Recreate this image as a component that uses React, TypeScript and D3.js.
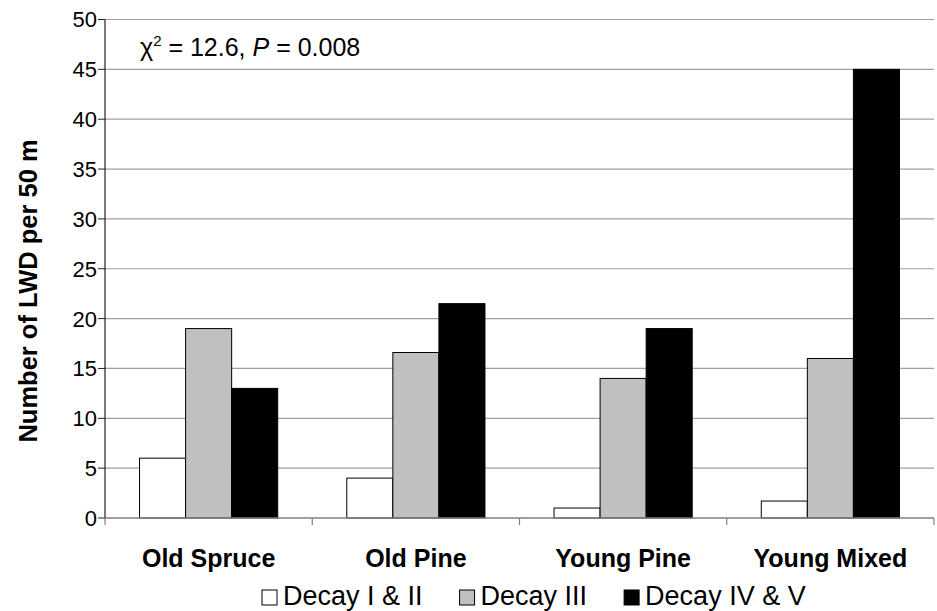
import React, { useEffect, useRef } from "react";
import * as d3 from "d3";

const categories = ["Old Spruce", "Old Pine", "Young Pine", "Young Mixed"];
const seriesNames = ["Decay I & II", "Decay III", "Decay IV & V"];
const decayI_II = [6, 4, 1, 1.7];
const decayIII = [19, 16.6, 14, 16];
const decayIV_V = [13, 21.5, 19, 45];
const seriesColors = ["#ffffff", "#c0c0c0", "#000000"];
const yTicks = [0, 5, 10, 15, 20, 25, 30, 35, 40, 45, 50];

export default function App() {
  const ref = useRef<SVGSVGElement | null>(null);

  useEffect(() => {
    const svg = d3.select(ref.current);
    svg.selectAll("*").remove();
    const font = "'Liberation Sans', Arial, sans-serif";
    const left = 105, right = 934, top = 19.5, bottom = 518;

    const y = d3.scaleLinear().domain([0, 50]).range([bottom, top]);
    const x0 = d3.scaleBand<string>().domain(categories).range([left, right]).paddingInner(0).paddingOuter(0);
    const x1 = d3.scaleBand<string>().domain(seriesNames).range([0, x0.bandwidth()]).paddingInner(0).paddingOuter(0.75);
    const series = [decayI_II, decayIII, decayIV_V];

    // gridlines
    svg.append("g").selectAll("line").data(yTicks.filter((t) => t > 0)).join("line")
      .attr("x1", left).attr("x2", right)
      .attr("y1", (d) => y(d)).attr("y2", (d) => y(d))
      .attr("stroke", "#a0a0a0").attr("stroke-width", 1.2);

    // bars
    const g = svg.append("g");
    categories.forEach((c, ci) => {
      seriesNames.forEach((s, si) => {
        const v = series[si][ci];
        g.append("rect")
          .attr("x", (x0(c) as number) + (x1(s) as number))
          .attr("y", y(v))
          .attr("width", x1.bandwidth())
          .attr("height", y(0) - y(v))
          .attr("fill", seriesColors[si])
          .attr("stroke", "#000").attr("stroke-width", 1);
      });
    });

    // y axis
    svg.append("line").attr("x1", left).attr("x2", left).attr("y1", top).attr("y2", bottom)
      .attr("stroke", "#222").attr("stroke-width", 1.2);
    svg.append("g").selectAll("line").data(yTicks).join("line")
      .attr("x1", left - 7).attr("x2", left)
      .attr("y1", (d) => y(d)).attr("y2", (d) => y(d))
      .attr("stroke", "#222").attr("stroke-width", 1);
    svg.append("g").selectAll("text").data(yTicks).join("text")
      .attr("x", left - 8).attr("y", (d) => y(d)).attr("dy", "0.36em")
      .attr("text-anchor", "end").attr("font-family", font).attr("font-size", 22)
      .attr("fill", "#000").text((d) => String(d));

    // x axis
    svg.append("line").attr("x1", left).attr("x2", right).attr("y1", bottom).attr("y2", bottom)
      .attr("stroke", "#808080").attr("stroke-width", 1.5);
    const bounds = categories.map((c) => x0(c) as number).concat([right]);
    svg.append("g").selectAll("line").data(bounds).join("line")
      .attr("x1", (d) => d).attr("x2", (d) => d)
      .attr("y1", bottom).attr("y2", bottom + 7)
      .attr("stroke", "#808080").attr("stroke-width", 1.2);
    svg.append("g").selectAll("text").data(categories).join("text")
      .attr("x", (d) => (x0(d) as number) + x0.bandwidth() / 2).attr("y", 567)
      .attr("text-anchor", "middle").attr("font-family", font).attr("font-weight", "bold")
      .attr("font-size", 25).attr("fill", "#000").text((d) => d);

    // y title
    svg.append("text")
      .attr("transform", "translate(37,291) rotate(-90)")
      .attr("text-anchor", "middle").attr("font-family", font).attr("font-weight", "bold")
      .attr("font-size", 25.5).attr("fill", "#000").text("Number of LWD per 50 m");

    // annotation
    const ann = svg.append("text").attr("x", 140).attr("y", 56)
      .attr("font-family", font).attr("font-size", 25).attr("fill", "#000");
    ann.append("tspan").text("χ");
    ann.append("tspan").attr("dy", -10).attr("font-size", 15).text("2");
    ann.append("tspan").attr("dy", 10).text(" = 12.6, ");
    ann.append("tspan").attr("font-style", "italic").text("P");
    ann.append("tspan").text(" = 0.008");

    // legend
    let lx = 262;
    const ly = 605;
    seriesNames.forEach((s, i) => {
      svg.append("rect").attr("x", lx).attr("y", ly - 15).attr("width", 15).attr("height", 15)
        .attr("fill", seriesColors[i]).attr("stroke", "#000").attr("stroke-width", 1);
      const t = svg.append("text").attr("x", lx + 21).attr("y", ly)
        .attr("font-family", font).attr("font-size", 27).attr("fill", "#000").text(s);
      const w = (t.node() as SVGTextElement).getComputedTextLength();
      lx = lx + 21 + w + 37;
    });
  }, []);

  return (
    <svg ref={ref} width={937} height={611}
      style={{ position: "absolute", left: 0, top: 0, background: "#fff" }} />
  );
}
